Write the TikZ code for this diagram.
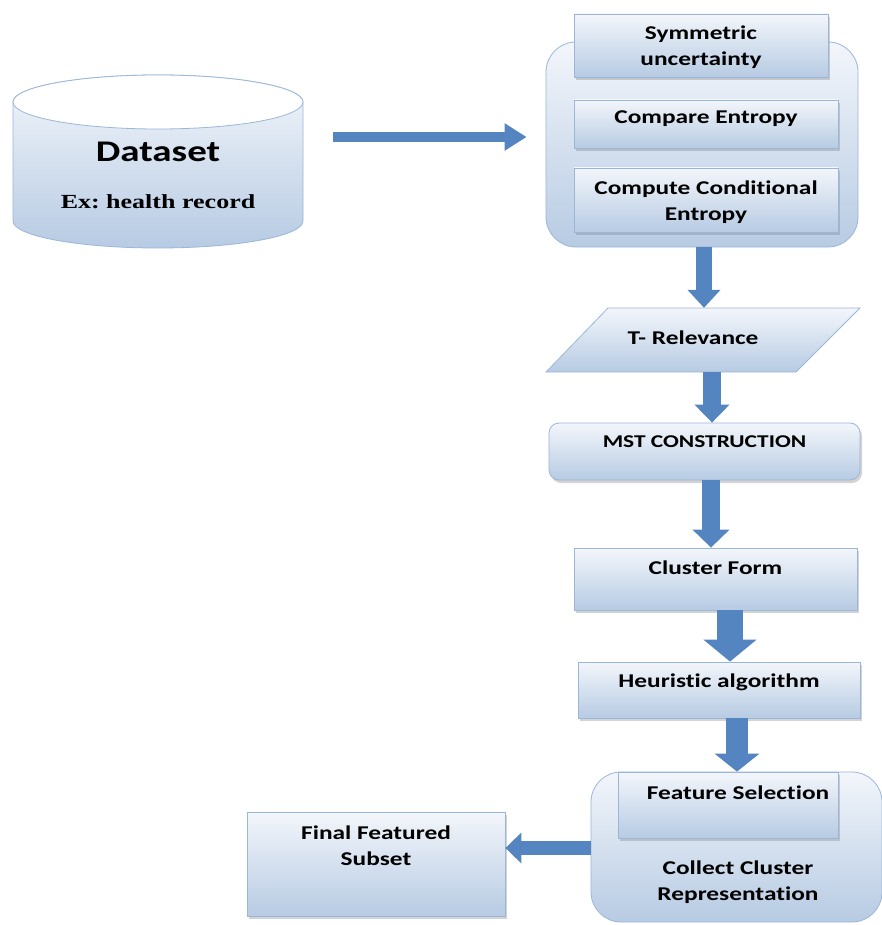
\documentclass[tikz,border=0pt]{standalone}
\usepackage{fontspec}
\setmainfont{Carlito}[FakeStretch=1.3, Ligatures=NoCommon]
\newfontfamily\serifb{Liberation Serif}[FakeStretch=1.3]
\usetikzlibrary{shapes.geometric,shadows,shadings,arrows.meta}
\definecolor{bordc}{HTML}{9AB6D8}
\definecolor{topc}{HTML}{F3F6FB}
\definecolor{botc}{HTML}{B7CBE3}
\definecolor{arrc}{HTML}{5585C0}
\frenchspacing
\tikzset{
  box/.style={draw=bordc, line width=0.8pt, top color=topc, bottom color=botc,
    inner sep=0pt, drop shadow={shadow xshift=2pt, shadow yshift=-3pt, opacity=0.35, fill=gray}},
  grpbox/.style={draw=bordc, line width=0.8pt, top color=topc, bottom color=botc,
    inner sep=0pt, rounded corners=30pt},
  txt/.style={font=\bfseries\fontsize{19.5}{26}\selectfont, align=center, inner sep=0pt, text=black},
  bigarrow/.style={draw=arrc, line width=#1},
}
\begin{document}
\begin{tikzpicture}[x=1pt,y=-1pt]
\useasboundingbox (0,0) rectangle (882,925);
% dataset cylinder
\path[draw=bordc, line width=0.8pt, top color=topc, bottom color=botc]
  (13,102) -- (13,221) arc[start angle=180,end angle=360,x radius=145pt,y radius=27pt]
  -- (303,102) arc[start angle=0,end angle=180,x radius=145pt,y radius=27pt] -- cycle;
\draw[bordc, line width=0.8pt, fill=white] (158,102) ellipse[x radius=145pt, y radius=27pt];
\node[minimum width=290pt, minimum height=173pt, inner sep=0pt] (ds) at (158,161.5) {};
\node[txt, anchor=base, font=\bfseries\fontsize{30}{34}\selectfont] (dst) at (158,162) {Dataset};
\node[txt, anchor=base, font=\serifb\bfseries\fontsize{20}{24}\selectfont] (dse) at (158,209) {Ex: health record};

% top group
\node[grpbox, minimum width=312pt, minimum height=205pt] (grp) at (702,144.5) {};
\node[box, minimum width=254pt, minimum height=63pt] (su) at (701,45.5) {};
\node[txt] (sut) at (701,47) {Symmetric\\uncertainty};
\node[box, minimum width=264pt, minimum height=48pt] (ce) at (706,124) {};
\node[txt, anchor=base] (cet) at (706,124) {Compare Entropy};
\node[box, minimum width=264pt, minimum height=64pt] (cc) at (706,200) {};
\node[txt] (cct) at (706,202) {Compute Conditional\\Entropy};

% T-Relevance
\path[draw=bordc, line width=0.8pt, top color=topc, bottom color=botc]
  (608,308) -- (860,308) -- (796,372) -- (546,372) -- cycle;
\node[minimum width=250pt, minimum height=64pt, inner sep=0pt] (tr) at (703,340) {};
\node[txt, anchor=base] (trt) at (693,344) {T- Relevance};

% MST
\node[box, rounded corners=10pt, minimum width=311pt, minimum height=57pt] (mst) at (704.5,451.5) {};
\node[txt, anchor=base, font=\bfseries\fontsize{18}{22}\selectfont] (mstt) at (704.5,447) {MST CONSTRUCTION};

% Cluster form
\node[box, minimum width=283pt, minimum height=62pt] (cf) at (715.5,579) {};
\node[txt, anchor=base] (cft) at (715.5,574) {Cluster Form};

% Heuristic
\node[box, minimum width=282pt, minimum height=56pt] (ha) at (719,690) {};
\node[txt, anchor=base] (hat) at (719,687) {Heuristic algorithm};

% Feature group
\node[grpbox, minimum width=291pt, minimum height=150pt] (fg) at (736.5,847) {};
\node[box, minimum width=220pt, minimum height=66pt] (fs) at (728,805) {};
\node[txt, anchor=base] (fst) at (738,799) {Feature Selection};
\node[txt] (cct2) at (738,882) {Collect Cluster\\Representation};

% Final
\node[box, minimum width=258pt, minimum height=104pt] (fin) at (376,864) {};
\node[txt] (fint) at (376,846) {Final Featured\\Subset};

% arrows
\draw[bigarrow=10pt, -{Triangle[length=22pt,width=26pt]}]
  ([xshift=30pt,yshift=24.5pt]ds.east) -- ([xshift=-19pt,yshift=7.5pt]grp.west);
\draw[bigarrow=16pt, -{Triangle[length=18pt,width=32pt]}]
  ([xshift=2pt]grp.south) -- ([xshift=2pt]grp.south |- tr.north);
\draw[bigarrow=18pt, -{Triangle[length=18pt,width=34pt]}]
  ([xshift=9pt]tr.south) -- ([xshift=9pt]tr.south |- mst.north);
\draw[bigarrow=18pt, -{Triangle[length=18pt,width=36pt]}]
  ([xshift=6.5pt]mst.south) -- ([xshift=6.5pt]mst.south |- cf.north);
\draw[bigarrow=26pt, -{Triangle[length=22pt,width=52pt]}]
  ([xshift=14.5pt]cf.south) -- ([xshift=14.5pt]cf.south |- ha.north);
\draw[bigarrow=22pt, -{Triangle[length=18pt,width=44pt]}]
  ([xshift=18pt]ha.south) -- ([xshift=18pt]ha.south |- fg.north);
\draw[bigarrow=14pt, -{Triangle[length=16pt,width=30pt]}]
  ([yshift=-1pt]fg.west) -- ([yshift=-1pt]fg.west -| fin.east);
\end{tikzpicture}
\end{document}
